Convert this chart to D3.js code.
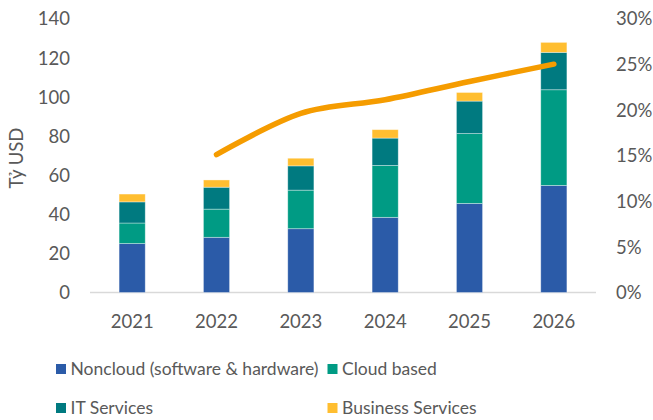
<!DOCTYPE html>
<html>
<head>
<meta charset="utf-8">
<script src="https://cdn.jsdelivr.net/npm/d3@7"></script>
<style>
  html, body { margin: 0; padding: 0; background: #fff; }
  svg { display: block; font-family: Lato, "Open Sans", sans-serif; }
</style>
</head>
<body>
<svg id="chart" width="653" height="420"></svg>
<script>
// Market size by segment (billion USD) and yearly growth rate
const years = ["2021", "2022", "2023", "2024", "2025", "2026"];
const noncloud = [25, 28.2, 32.6, 38.4, 45.5, 54.7];
const cloudBased = [10.5, 14.4, 19.7, 26.5, 35.7, 48.9];
const itServices = [10.8, 11.2, 12.4, 14.0, 16.6, 19.1];
const businessServices = [4.0, 3.7, 3.9, 4.3, 4.4, 5.1];
const growthYears = ["2022", "2023", "2024", "2025", "2026"];
const growthRate = [0.151, 0.196, 0.211, 0.231, 0.250];
const leftTicks = [0, 20, 40, 60, 80, 100, 120, 140];
const rightTicks = [0, 0.05, 0.10, 0.15, 0.20, 0.25, 0.30];

const seriesNames = ["Noncloud (software & hardware)", "Cloud based", "IT Services", "Business Services"];
const seriesColors = ["#2B5BA8", "#009B84", "#007A80", "#FFBE30"];
const lineColor = "#F59C00";
const textColor = "#595959";

const svg = d3.select("#chart");

const plotLeft = 90, plotRight = 596, plotTop = 18.5, plotBottom = 292.5;

const x = d3.scaleBand().domain(years).range([plotLeft, plotRight])
  .paddingInner(0.69).paddingOuter(0.345);
const y = d3.scaleLinear().domain([0, 140]).range([plotBottom, plotTop]);
const y2 = d3.scaleLinear().domain([0, 0.30]).range([plotBottom, plotTop]);

// stacked data
const table = years.map((yr, i) => ({
  year: yr,
  s0: noncloud[i], s1: cloudBased[i], s2: itServices[i], s3: businessServices[i]
}));
const keys = ["s0", "s1", "s2", "s3"];
const stacked = d3.stack().keys(keys)(table);

// baseline
svg.append("line")
  .attr("x1", plotLeft).attr("x2", plotRight)
  .attr("y1", plotBottom).attr("y2", plotBottom)
  .attr("stroke", "#D9D9D9").attr("stroke-width", 1.5);

// bars
svg.append("g").selectAll("g").data(stacked).join("g")
  .attr("fill", (d, i) => seriesColors[i])
  .selectAll("rect").data(d => d).join("rect")
  .attr("x", d => x(d.data.year))
  .attr("width", x.bandwidth())
  .attr("y", d => y(d[1]))
  .attr("height", d => y(d[0]) - y(d[1]))
  .attr("stroke", "#ffffff").attr("stroke-opacity", 0.45).attr("stroke-width", 0.8);

// growth line
const line = d3.line()
  .x((d, i) => x(growthYears[i]) + x.bandwidth() / 2)
  .y(d => y2(d))
  .curve(d3.curveCatmullRom.alpha(0));
svg.append("path")
  .datum(growthRate)
  .attr("d", line)
  .attr("fill", "none")
  .attr("stroke", lineColor)
  .attr("stroke-width", 5.5)
  .attr("stroke-linecap", "round")
  .attr("stroke-linejoin", "round");

// left axis
const leftAxis = d3.axisLeft(y).tickValues(leftTicks).tickSize(0).tickPadding(0);
const gl = svg.append("g").attr("transform", "translate(70,0)").call(leftAxis);
gl.select(".domain").remove();
gl.selectAll("text").attr("fill", textColor).attr("font-size", 18.5)
  .attr("font-family", "Lato, sans-serif").attr("dy", "0.35em");

// right axis
const rightAxis = d3.axisRight(y2).tickValues(rightTicks).tickFormat(d3.format(".0%")).tickSize(0).tickPadding(0);
const gr = svg.append("g").attr("transform", "translate(616,0)").call(rightAxis);
gr.select(".domain").remove();
gr.selectAll("text").attr("fill", textColor).attr("font-size", 18.5)
  .attr("font-family", "Lato, sans-serif").attr("dy", "0.35em");

// category axis
const bottomAxis = d3.axisBottom(x).tickSize(0).tickPadding(0);
const gb = svg.append("g").attr("transform", "translate(0,322)").call(bottomAxis);
gb.select(".domain").remove();
gb.selectAll("text").attr("fill", textColor).attr("font-size", 18.5)
  .attr("font-family", "Lato, sans-serif").attr("dy", "0.35em").attr("y", 0);

// axis title
svg.append("text")
  .attr("transform", "translate(17,158) rotate(-90)")
  .attr("text-anchor", "middle")
  .attr("dy", "0.35em")
  .attr("fill", textColor)
  .attr("font-size", 18.5)
  .text("Tỷ USD");

// legend
const legendPos = [[56, 369], [327.5, 369], [56, 408], [327.5, 408]];
const lg = svg.append("g").selectAll("g").data(seriesNames).join("g")
  .attr("transform", (d, i) => `translate(${legendPos[i][0]},${legendPos[i][1]})`);
lg.append("rect").attr("x", 0).attr("y", -5).attr("width", 10).attr("height", 10)
  .attr("fill", (d, i) => seriesColors[i]);
lg.append("text").attr("x", 14.5).attr("y", 0).attr("dy", "0.35em")
  .attr("fill", textColor).attr("font-size", 17.5).text(d => d);
</script>
</body>
</html>
